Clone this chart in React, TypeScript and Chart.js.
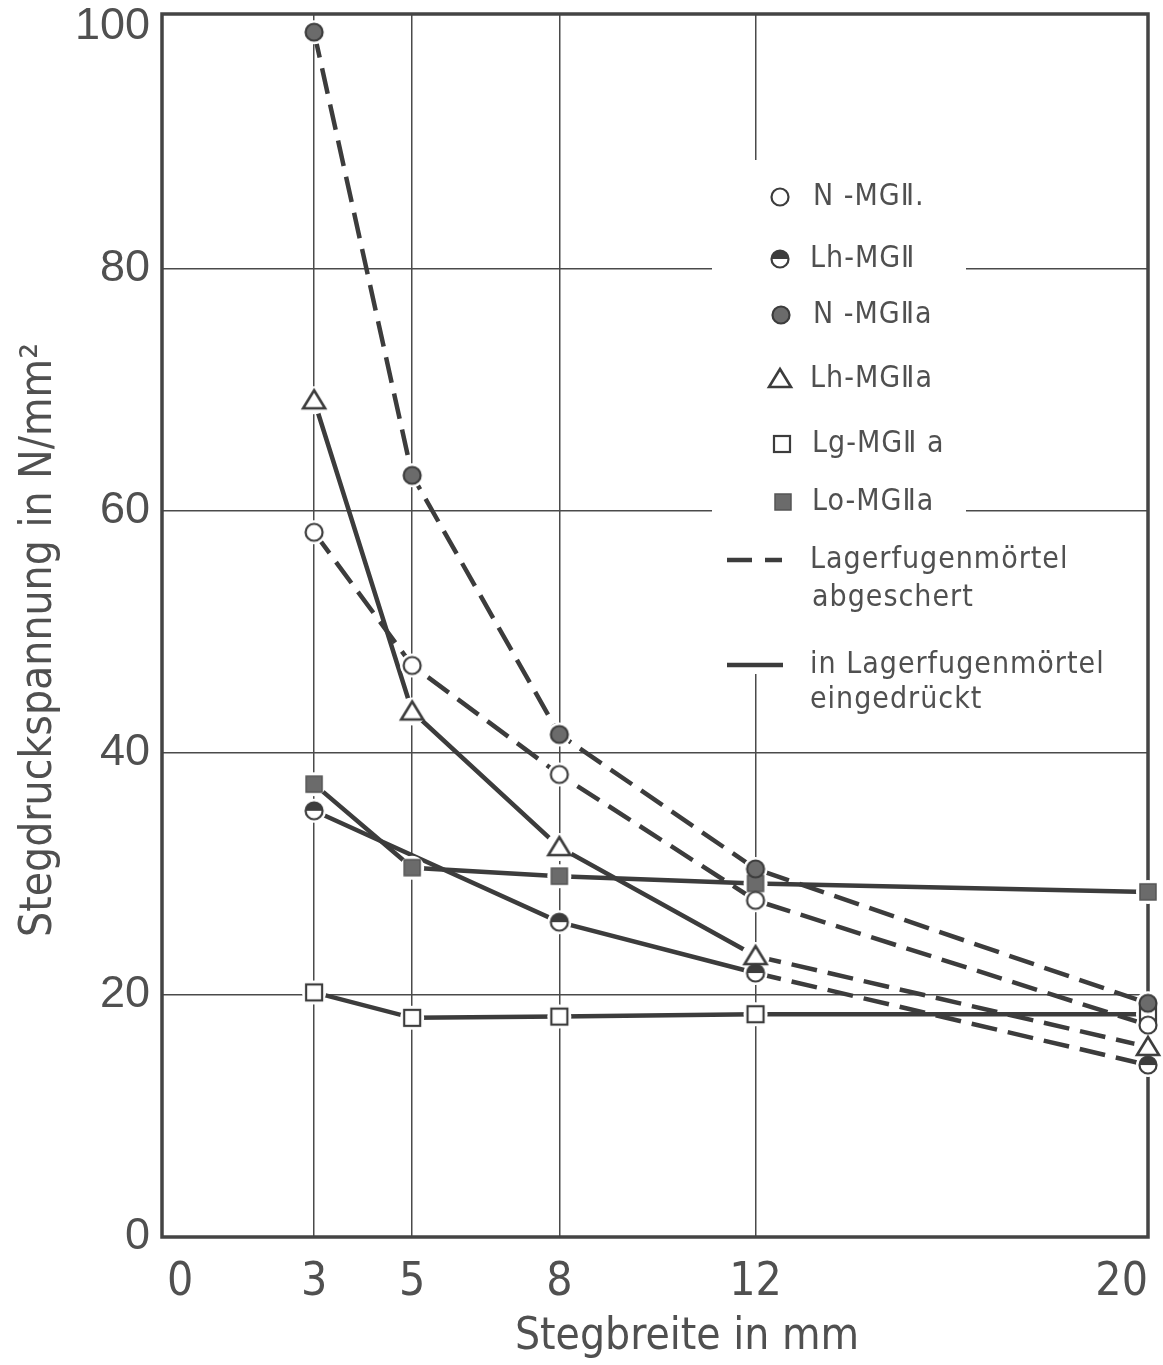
import React, { useEffect, useRef } from "react";
import { Chart, registerables } from "chart.js";

Chart.register(...registerables);

// ---------- data ----------
const xValues = [3, 5, 8, 12, 20];
const xTickValues = [0, 3, 5, 8, 12, 20];
const yTickValues = [0, 20, 40, 60, 80, 100];
const xGridValues = [3, 5, 8, 12];
const yGridValues = [20, 40, 60, 80];

const nMGII = [58.2, 47.2, 38.2, 27.8, 17.5];
const lhMGII = [35.2, null, 26.0, 21.8, 14.2];
const nMGIIa = [99.5, 62.9, 41.5, 30.4, 19.3];
const lhMGIIa = [69.1, 43.4, 32.2, 23.2, 15.7];
const lgMGIIa = [20.2, 18.1, 18.2, 18.4, 18.4];
const loMGIIa = [37.4, 30.5, 29.8, 29.2, 28.5];

const seriesLabels = ["N -MGⅡ.", "Lh-MGⅡ", "N -MGⅡa", "Lh-MGⅡa", "Lg-MGⅡ a", "Lo-MGⅡa"];
const seriesValues = [nMGII, lhMGII, nMGIIa, lhMGIIa, lgMGIIa, loMGIIa];
const seriesMarkers = ["circleOpen", "circleHalf", "circleFilled", "triangleOpen", "squareOpen", "squareFilled"];
// segment index from which the line is dashed (5 = never)
const dashedFrom = [0, 3, 0, 3, 5, 5];

const xTitle = "Stegbreite in mm";
const yTitle = "Stegdruckspannung in N/mm²";
const legendDashedText = ["Lagerfugenmörtel", "abgeschert"];
const legendSolidText = ["in Lagerfugenmörtel", "eingedrückt"];

// ---------- style ----------
const INK = "#3c3c3c";
const GRID = "#4a4a4a";
const FILL = "#6b6b6b";
const TEXT = "#505050";
const NARROW = '"Liberation Sans Narrow", "DejaVu Sans Condensed", "Roboto Condensed", sans-serif';
const WIDE = '"Liberation Sans", Arial, sans-serif';
const DASH = [26, 11];

function makeMarker(kind: string): HTMLCanvasElement {
  const s = 30;
  const c = document.createElement("canvas");
  c.width = s;
  c.height = s;
  const g = c.getContext("2d")!;
  const m = s / 2;
  g.lineWidth = 2.2;
  g.strokeStyle = INK;
  const r = 8.5;
  if (kind === "circleOpen" || kind === "circleFilled" || kind === "circleHalf") {
    g.beginPath();
    g.arc(m, m, r, 0, Math.PI * 2);
    g.fillStyle = kind === "circleFilled" ? FILL : "#fff";
    g.fill();
    if (kind === "circleHalf") {
      g.beginPath();
      g.arc(m, m, r, Math.PI, 0);
      g.closePath();
      g.fillStyle = INK;
      g.fill();
    }
    g.beginPath();
    g.arc(m, m, r, 0, Math.PI * 2);
    g.stroke();
  } else if (kind === "triangleOpen") {
    g.lineWidth = 2.6;
    g.beginPath();
    g.moveTo(m, m - 10);
    g.lineTo(m + 11, m + 8);
    g.lineTo(m - 11, m + 8);
    g.closePath();
    g.fillStyle = "#fff";
    g.fill();
    g.stroke();
  } else if (kind === "squareOpen") {
    g.fillStyle = "#fff";
    g.fillRect(m - 8, m - 8, 16, 16);
    g.strokeRect(m - 8, m - 8, 16, 16);
  } else if (kind === "squareFilled") {
    g.fillStyle = FILL;
    g.fillRect(m - 8, m - 8, 16, 16);
    g.lineWidth = 1.5;
    g.strokeStyle = "#555";
    g.strokeRect(m - 8, m - 8, 16, 16);
  }
  return c;
}

export default function App() {
  const ref = useRef<HTMLCanvasElement | null>(null);

  useEffect(() => {
    const canvas = ref.current;
    if (!canvas) return;
    const markers = seriesMarkers.map((k) => makeMarker(k));

    const points = (vals: (number | null)[]) => xValues.map((x, i) => ({ x, y: vals[i] }));

    const haloSets = seriesValues.map((vals, k) => ({
      label: "halo" + k,
      data: points(vals),
      showLine: false,
      pointStyle: "circle",
      pointRadius: seriesMarkers[k] === "triangleOpen" ? 14 : 12,
      pointBackgroundColor: "#ffffff",
      pointBorderWidth: 0,
      order: 2,
      clip: false,
    }));
    const lineSets = seriesValues.map((vals, k) => ({
      label: seriesLabels[k],
      data: points(vals),
      borderColor: INK,
      borderWidth: 4.5,
      borderDash: dashedFrom[k] === 0 ? DASH : [],
      segment: {
        borderDash: (ctx: any) => (ctx.p0DataIndex >= dashedFrom[k] ? DASH : []),
      },
      pointRadius: 0,
      spanGaps: true,
      tension: 0,
      order: 3,
      clip: false,
    }));
    const markerSets = seriesValues.map((vals, k) => ({
      label: "marker" + k,
      data: points(vals),
      showLine: false,
      pointStyle: markers[k],
      pointRadius: 10,
      order: 0,
      clip: false,
    }));

    const framePlugin = {
      id: "frame",
      beforeDatasetsDraw(chart: any) {
        const { ctx, chartArea: a } = chart;
        ctx.save();
        // legend background (interrupts grid lines)
        ctx.fillStyle = "#ffffff";
        ctx.fillRect(712, 160, 254, 514);
        ctx.strokeStyle = "#444";
        ctx.lineWidth = 3.5;
        ctx.strokeRect(a.left, a.top, a.right - a.left, a.bottom - a.top);
        ctx.restore();
      },
    };

    const legendPlugin = {
      id: "customLegend",
      afterDraw(chart: any) {
        const { ctx } = chart;
        ctx.save();
        ctx.fillStyle = TEXT;
        ctx.textBaseline = "middle";
        ctx.textAlign = "left";
        ctx.font = `30px ${NARROW}`;
        (ctx as any).letterSpacing = "1px";
        const rows = [
          { mx: 780, y: 197, tx: 813 },
          { mx: 780, y: 259, tx: 810 },
          { mx: 781, y: 315, tx: 813 },
          { mx: 780, y: 379, tx: 810 },
          { mx: 782, y: 444, tx: 812 },
          { mx: 783, y: 502, tx: 812 },
        ];
        rows.forEach((r, k) => {
          const img = markers[k];
          ctx.drawImage(img, r.mx - img.width / 2, r.y - img.height / 2);
          ctx.fillText(seriesLabels[k], r.tx, r.y);
        });
        ctx.strokeStyle = INK;
        ctx.lineWidth = 4.5;
        ctx.beginPath();
        ctx.moveTo(727, 560);
        ctx.lineTo(752, 560);
        ctx.moveTo(765, 560);
        ctx.lineTo(782, 560);
        ctx.moveTo(727, 665);
        ctx.lineTo(783, 665);
        ctx.stroke();
        ctx.fillText(legendDashedText[0], 810, 560);
        ctx.fillText(legendDashedText[1], 812, 598);
        ctx.fillText(legendSolidText[0], 810, 665);
        ctx.fillText(legendSolidText[1], 810, 700);

        // axis titles
        (ctx as any).letterSpacing = "0px";
        ctx.font = `44px ${NARROW}`;
        ctx.textAlign = "center";
        ctx.fillText(xTitle, 687, 1338);
        ctx.translate(40, 640);
        ctx.rotate(-Math.PI / 2);
        ctx.font = `44px ${NARROW}`;
        ctx.fillText(yTitle, 0, 0);
        ctx.restore();
      },
    };

    const chart = new Chart(canvas, {
      type: "line",
      data: { datasets: [...markerSets, ...haloSets, ...lineSets] as any },
      options: {
        animation: false,
        responsive: false,
        devicePixelRatio: 1,
        layout: { padding: { top: 10, right: 15, left: 0, bottom: 0 } },
        plugins: { legend: { display: false }, tooltip: { enabled: false } },
        scales: {
          x: {
            type: "linear",
            min: -0.1,
            max: 20,
            afterBuildTicks: (s: any) => {
              s.ticks = xTickValues.map((v) => ({ value: v }));
            },
            afterFit: (s: any) => {
              s.height = 128;
              s.paddingLeft = 0;
              s.paddingRight = 0;
            },
            grid: {
              drawTicks: false,
              lineWidth: 1.5,
              color: (c: any) => (c.tick && xGridValues.includes(c.tick.value) ? GRID : "rgba(0,0,0,0)"),
            },
            border: { display: false },
            ticks: {
              align: "inner",
              padding: 18,
              color: TEXT,
              font: { family: NARROW, size: 46 },
              maxRotation: 0,
              autoSkip: false,
            },
          },
          y: {
            type: "linear",
            min: 0,
            max: 101,
            afterBuildTicks: (s: any) => {
              s.ticks = yTickValues.map((v) => ({ value: v }));
            },
            afterFit: (s: any) => {
              s.width = 162;
              s.paddingTop = 0;
              s.paddingBottom = 0;
            },
            grid: {
              drawTicks: false,
              lineWidth: 1.5,
              color: (c: any) => (c.tick && yGridValues.includes(c.tick.value) ? GRID : "rgba(0,0,0,0)"),
            },
            border: { display: false },
            ticks: {
              padding: 12,
              color: TEXT,
              font: { family: WIDE, size: 45 },
              autoSkip: false,
            },
          },
        },
      },
      plugins: [framePlugin, legendPlugin],
    } as any);

    return () => chart.destroy();
  }, []);

  return (
    <div style={{ position: "absolute", left: 0, top: 0, width: 1163, height: 1365, background: "#fff" }}>
      <canvas ref={ref} width={1163} height={1365} style={{ width: 1163, height: 1365, display: "block" }} />
    </div>
  );
}
